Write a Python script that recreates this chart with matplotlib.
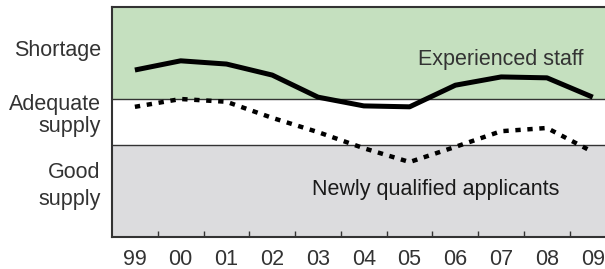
import numpy as np
import matplotlib.pyplot as plt
from matplotlib.transforms import blended_transform_factory

plt.rcParams['font.family'] = ['Liberation Sans', 'DejaVu Sans']

# years and the two series (0-2 good supply, 2-3 adequate, 3-5 shortage)
years = ['99', '00', '01', '02', '03', '04', '05', '06', '07', '08', '09']
experienced = [3.63, 3.83, 3.76, 3.52, 3.04, 2.85, 2.83, 3.30, 3.48, 3.46, 3.04]
newly_qualified = [2.83, 3.0, 2.94, 2.59, 2.28, 1.93, 1.63, 1.96, 2.30, 2.37, 1.85]

band_edges = [0, 2, 3, 5]
band_colors = ['#dcdcde', '#ffffff', '#c5e0bf']
# band label lines and their baselines (data units)
label_lines = ['Shortage', 'Adequate', 'supply', 'Good', 'supply']
label_y = [3.935, 2.76, 2.28, 1.28, 0.70]

fs = 15.5
txt = '#333333'

fig = plt.figure(figsize=(6.05, 2.69), dpi=100)
ax = fig.add_axes([112 / 605, 32 / 269, 1 - 112 / 605 + 0.01, 230 / 269])

for lo, hi, c in zip(band_edges[:-1], band_edges[1:], band_colors):
    ax.axhspan(lo, hi, color=c, lw=0, zorder=0)
for edge in band_edges[1:-1]:
    ax.axhline(edge, color='#333333', lw=1.0, zorder=1)

x = np.arange(len(years))
ax.plot(x, experienced, color='black', lw=3.6, solid_capstyle='butt', zorder=3)
ax.plot(x, newly_qualified, color='black', lw=3.2,
        linestyle=(0, (1.2, 1.5)), dash_capstyle='butt', zorder=3)

ax.text(8.0, 3.74, 'Experienced staff', fontsize=fs, color=txt,
        ha='center', va='baseline')
ax.text(6.57, 0.91, 'Newly qualified applicants', fontsize=fs, color='#1a1a1a',
        ha='center', va='baseline')

ax.set_xlim(-0.5, 10.4)
ax.set_ylim(0, 5)

ax.set_xticks(x)
ax.set_xticklabels(years, fontsize=fs, color=txt)
ax.set_xticks(x[:-1] + 0.5, minor=True)
ax.tick_params(axis='x', which='major', length=0, pad=8.5)
ax.tick_params(axis='x', which='minor', direction='in', length=4,
               width=1, color='#333333')

ax.set_yticks([])
trans = blended_transform_factory(ax.transAxes, ax.transData)
for s, yy in zip(label_lines, label_y):
    ax.text(-11 / 493, yy, s, transform=trans, fontsize=fs, color=txt,
            ha='right', va='baseline', clip_on=False)

for side in ['top', 'left', 'bottom']:
    ax.spines[side].set_color('#333333')
    ax.spines[side].set_linewidth(1.5)
ax.spines['right'].set_visible(False)

fig.savefig('out.png', dpi=100)
